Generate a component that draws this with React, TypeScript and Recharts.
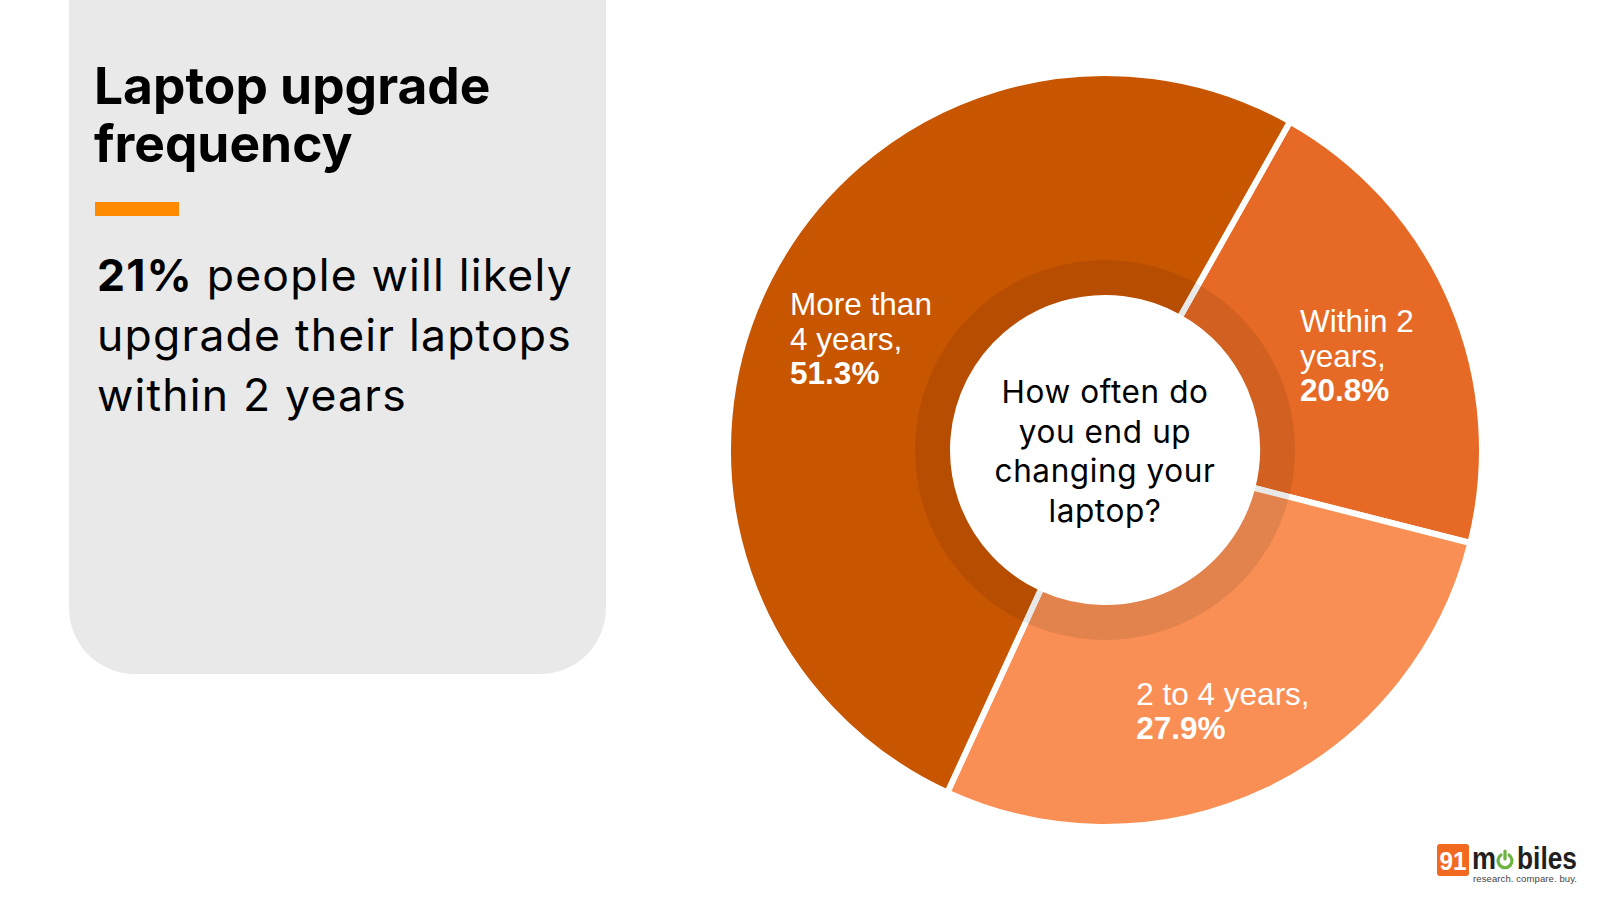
import React from 'react'
import { PieChart, Pie, Cell } from 'recharts'

const categories = ['Within 2 years', '2 to 4 years', 'More than 4 years']
const shares = [20.8, 27.9, 51.3]
const labelLines = [['Within 2', 'years,'], ['2 to 4 years,'], ['More than', '4 years,']]
const sliceColors = ['#E66A25', '#F98F54', '#C85500']

const centerQuestion = ['How often do', 'you end up', 'changing your', 'laptop?']

const chartData = categories.map((name, i) => ({ name, value: shares[i] }))
const ringData = [{ name: 'ring', value: shares.reduce((a, b) => a + b, 0) }]

const RADIAN = Math.PI / 180
const LABEL_FONT = 'Liberation Sans, Arial, sans-serif'
const LABEL_SIZE = 31.5
const LABEL_LINE = 34.5

let ctx: CanvasRenderingContext2D | null = null
function textWidth(text: string, bold: boolean): number {
  if (!ctx) ctx = document.createElement('canvas').getContext('2d')
  if (!ctx) return text.length * LABEL_SIZE * 0.5
  ctx.font = `${bold ? 'bold ' : ''}${LABEL_SIZE}px "Liberation Sans"`
  return ctx.measureText(text).width
}

function renderLabel(props: any) {
  const { cx, cy, midAngle, index, value } = props
  const r = 274
  const x = cx + r * Math.cos(-midAngle * RADIAN)
  const y = cy + r * Math.sin(-midAngle * RADIAN) + 15
  const lines = [...labelLines[index], `${value}%`]
  const widest = Math.max(...lines.map((l, i) => textWidth(l, i === lines.length - 1)))
  const left = x - widest / 2
  // centre the block on the x-height middle of the lines
  const firstBase = y - ((lines.length - 1) * LABEL_LINE) / 2 + LABEL_SIZE * 0.3
  return (
    <g key={`lbl-${index}`}>
      {lines.map((l, i) => (
        <text
          key={i}
          x={left}
          y={firstBase + i * LABEL_LINE}
          fill="#ffffff"
          fontFamily={LABEL_FONT}
          fontSize={LABEL_SIZE}
          fontWeight={i === lines.length - 1 ? 700 : 400}
          textAnchor="start"
        >
          {l}
        </text>
      ))}
    </g>
  )
}

function Logo() {
  const font = 'Liberation Sans, Arial, sans-serif'
  return (
    <svg width={166} height={60} style={{ position: 'absolute', left: 1434, top: 830 }}>
      <rect x={3} y={14} width={32} height={32} rx={3} fill="#F26A21" />
      <text x={19} y={40} textAnchor="middle" fill="#fff" fontFamily={font} fontWeight={700} fontSize={26} textLength={27} lengthAdjust="spacingAndGlyphs">
        91
      </text>
      <text x={38} y={39} fill="#231F20" fontFamily={font} fontWeight={700} fontSize={31} textLength={24} lengthAdjust="spacingAndGlyphs">
        m
      </text>
      <path d="M67 25 A7 7 0 1 0 75 25" fill="none" stroke="#6CB33F" strokeWidth={3.2} strokeLinecap="round" />
      <line x1={71} y1={21} x2={71} y2={29} stroke="#6CB33F" strokeWidth={3.2} strokeLinecap="round" />
      <text x={83} y={39} fill="#231F20" fontFamily={font} fontWeight={700} fontSize={31} textLength={60} lengthAdjust="spacingAndGlyphs">
        biles
      </text>
      <text x={39} y={52} fill="#444" fontFamily={font} fontSize={9.5} textLength={104} lengthAdjust="spacing">
        research. compare. buy.
      </text>
    </svg>
  )
}

export default function App() {
  return (
    <div
      style={{
        position: 'absolute',
        left: 0,
        top: 0,
        width: 1600,
        height: 900,
        background: '#ffffff',
        overflow: 'hidden',
        fontFamily: 'Inter, sans-serif',
      }}
    >
      {/* left info panel */}
      <div
        style={{
          position: 'absolute',
          left: 69,
          top: 0,
          width: 537,
          height: 674,
          background: '#E9E9E9',
          borderRadius: '0 0 66px 66px',
        }}
      />
      <div
        style={{
          position: 'absolute',
          left: 94,
          top: 56,
          fontSize: 51.5,
          lineHeight: '58px',
          fontWeight: 700,
          color: '#000',
          whiteSpace: 'nowrap',
        }}
      >
        Laptop upgrade
        <br />
        frequency
      </div>
      <div
        style={{
          position: 'absolute',
          left: 95,
          top: 202,
          width: 84,
          height: 14,
          background: '#FF8A00',
        }}
      />
      <div
        style={{
          position: 'absolute',
          left: 97,
          top: 245,
          fontSize: 44.5,
          lineHeight: '60px',
          letterSpacing: 1.2,
          color: '#000',
          whiteSpace: 'nowrap',
        }}
      >
        <b>21%</b> people will likely
        <br />
        upgrade their laptops
        <br />
        within 2 years
      </div>

      {/* donut */}
      <div style={{ position: 'absolute', left: 705, top: 50 }}>
        <PieChart width={800} height={800} margin={{ top: 0, right: 0, bottom: 0, left: 0 }}>
          <Pie
            data={chartData}
            dataKey="value"
            nameKey="name"
            cx={400}
            cy={400}
            innerRadius={152}
            outerRadius={377}
            startAngle={60.6}
            endAngle={-299.4}
            stroke="#ffffff"
            strokeWidth={6}
            label={renderLabel}
            labelLine={false}
            isAnimationActive={false}
          >
            {chartData.map((d, i) => (
              <Cell key={d.name} fill={sliceColors[i]} />
            ))}
          </Pie>
          <Pie
            data={ringData}
            dataKey="value"
            cx={400}
            cy={400}
            innerRadius={155}
            outerRadius={190}
            startAngle={90}
            endAngle={-270}
            fill="#000000"
            fillOpacity={0.09}
            stroke="none"
            isAnimationActive={false}
          />
        </PieChart>
      </div>
      <div
        style={{
          position: 'absolute',
          left: 945,
          top: 372,
          width: 320,
          textAlign: 'center',
          fontSize: 31.5,
          lineHeight: '39.5px',
          letterSpacing: 0.6,
          color: '#000',
        }}
      >
        {centerQuestion.map((l) => (
          <div key={l}>{l}</div>
        ))}
      </div>

      <Logo />
    </div>
  )
}
